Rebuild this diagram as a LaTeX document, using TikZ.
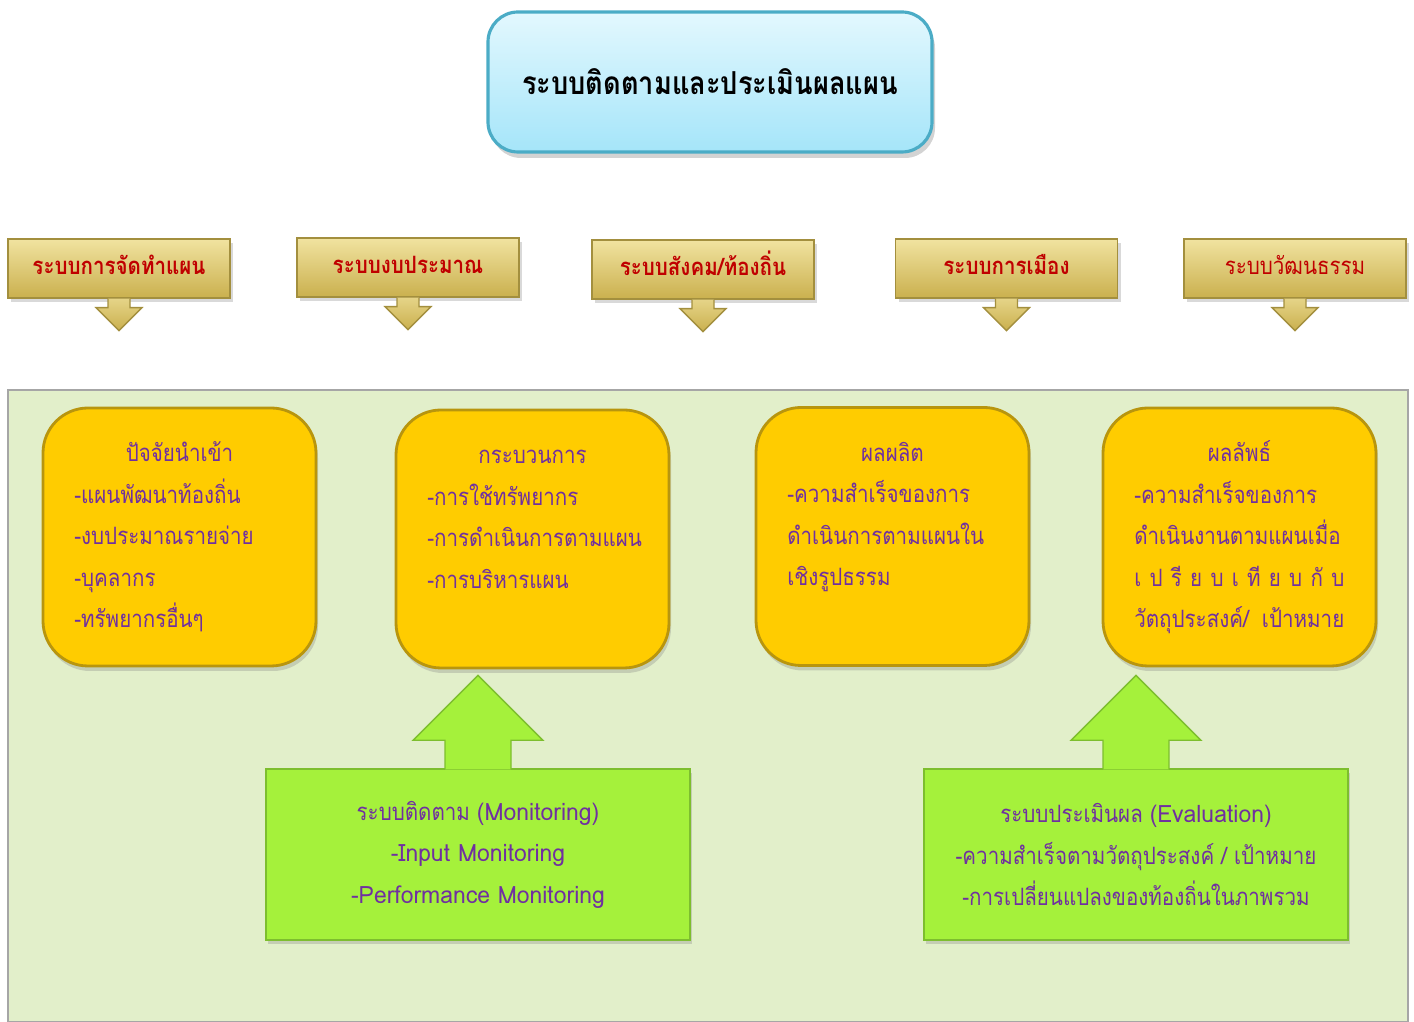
\documentclass[tikz,border=0pt]{standalone}
\usepackage{fontspec}
\setmainfont[Script=Thai]{Loma}
\newfontfamily\narrowthai[Script=Thai,FakeStretch=0.86]{Loma}
\newfontfamily\plainlatin[FakeStretch=0.96]{Loma}
\newcommand{\lat}[1]{{\plainlatin #1}}
\usepackage{xcolor}
\usepackage{tikz}
\usetikzlibrary{calc,shadows}

\definecolor{titletop}{HTML}{E3F8FE}
\definecolor{titlebottom}{HTML}{A5E5F9}
\definecolor{titleedge}{HTML}{4BACC6}
\definecolor{goldtop}{HTML}{F1E3A0}
\definecolor{goldbottom}{HTML}{CAB04E}
\definecolor{goldedge}{HTML}{A38F3E}
\definecolor{goldtext}{HTML}{C00000}
\definecolor{panelfill}{HTML}{E2EFCA}
\definecolor{paneledge}{HTML}{A6A6A6}
\definecolor{yellowfill}{HTML}{FFCC00}
\definecolor{yellowedge}{HTML}{B8950E}
\definecolor{stagetext}{HTML}{7030A0}
\definecolor{limefill}{HTML}{A5F13B}
\definecolor{limeedge}{HTML}{7DBE2E}

\tikzset{
  titlebox/.style={rectangle,rounded corners=0.3cm,top color=titletop,bottom color=titlebottom,
    draw=titleedge,line width=0.9pt,minimum width=4.44cm,minimum height=1.40cm,
    font=\narrowthai\fontsize{9}{11}\selectfont\bfseries,
    drop shadow={opacity=0.35,shadow xshift=0.03,shadow yshift=-0.06}},
  goldbox/.style={rectangle,top color=goldtop,bottom color=goldbottom,draw=goldedge,
    minimum width=2.22cm,minimum height=0.59cm,text=goldtext,text height=5.5pt,text depth=2.1pt,
    font=\narrowthai\fontsize{6.8}{8}\selectfont\bfseries,
    drop shadow={opacity=0.3,shadow xshift=0.03,shadow yshift=-0.04}},
  goldarrow/.style={top color=goldtop!70!goldbottom,bottom color=goldbottom,draw=goldedge},
  panel/.style={rectangle,fill=panelfill,draw=paneledge,minimum width=14.0cm,minimum height=6.32cm},
  yellowbox/.style={rectangle,rounded corners=0.45cm,fill=yellowfill,draw=yellowedge,line width=0.8pt,
    minimum width=2.73cm,minimum height=2.58cm,
    drop shadow={opacity=0.3,shadow xshift=0.02,shadow yshift=-0.05}},
  stagehead/.style={anchor=base,inner sep=0pt,text=stagetext,font=\narrowthai\fontsize{6.8}{8}\selectfont},
  stageline/.style={anchor=base west,inner sep=0pt,text=stagetext,font=\narrowthai\fontsize{6.8}{8}\selectfont},
  limebox/.style={rectangle,fill=limefill,draw=limeedge,minimum width=4.24cm,minimum height=1.71cm,
    align=center,text=stagetext,font=\narrowthai\fontsize{6.8}{11.8}\selectfont,
    drop shadow={opacity=0.3,shadow xshift=0.02,shadow yshift=-0.04}},
  limearrow/.style={fill=limefill,draw=limeedge}
}

\begin{document}
\begin{tikzpicture}
  \useasboundingbox (0,0) rectangle (14.14,10.22);

  \node[titlebox] (title) at (7.10,9.40) {ระบบติดตามและประเมินผลแผน};

  % five systems feeding in
  \node[goldbox] (plan) at (1.19,7.535) {ระบบการจัดทำแผน};
  \node[goldbox] (budget) at (4.08,7.545) {ระบบงบประมาณ};
  \node[goldbox] (social) at (7.03,7.525) {ระบบสังคม/ท้องถิ่น};
  \node[goldbox] (politic) at (10.065,7.535) {ระบบการเมือง};
  \node[goldbox,font=\narrowthai\fontsize{6.8}{8}\selectfont] (culture) at (12.95,7.535) {ระบบวัฒนธรรม};

  \foreach \b in {plan,budget,social,politic,culture}
    \path[goldarrow] ($(\b.south)+(-0.11,0)$) -- ++(0,-0.09) -- ++(-0.12,0)
      -- ($(\b.south)+(0,-0.32)$) -- ($(\b.south)+(0.23,-0.09)$) -- ++(-0.12,0)
      -- ($(\b.south)+(0.11,0)$);

  \node[panel] (panel) at (7.08,3.16) {};

  % stages
  \node[yellowbox] (inp) at (1.795,4.85) {};
  \node[yellowbox] (proc) at (5.325,4.83) {};
  \node[yellowbox] (outp) at (8.925,4.855) {};
  \node[yellowbox] (outc) at (12.395,4.85) {};

  \node[stagehead] at ($(inp.north)+(0,-0.55)$) {ปัจจัยนำเข้า};
  \foreach \t [count=\i] in {-แผนพัฒนาท้องถิ่น,-งบประมาณรายจ่าย,-บุคลากร,-ทรัพยากรอื่นๆ}
    \node[stageline] at ($(inp.north west)+(0.32,-0.55-0.415*\i)$) {\t};

  \node[stagehead] at ($(proc.north)+(0,-0.55)$) {กระบวนการ};
  \foreach \t [count=\i] in {-การใช้ทรัพยากร,-การดำเนินการตามแผน,-การบริหารแผน}
    \node[stageline] at ($(proc.north west)+(0.32,-0.55-0.415*\i)$) {\t};

  \node[stagehead] at ($(outp.north)+(0,-0.55)$) {ผลผลิต};
  \foreach \t [count=\i] in {-ความสำเร็จของการ,ดำเนินการตามแผนใน,เชิงรูปธรรม}
    \node[stageline] at ($(outp.north west)+(0.32,-0.55-0.415*\i)$) {\t};

  \node[stagehead] at ($(outc.north)+(0,-0.55)$) {ผลลัพธ์};
  \foreach \t [count=\i] in {-ความสำเร็จของการ,ดำเนินงานตามแผนเมื่อ,เ ป รี ย บ เ ที ย บ กั บ,วัตถุประสงค์/ เป้าหมาย}
    \node[stageline] at ($(outc.north west)+(0.32,-0.55-0.415*\i)$) {\makebox[2.1cm][s]{\t}};

  % monitoring and evaluation
  \node[limebox] (mon) at (4.78,1.675)
    {ระบบติดตาม \lat{(Monitoring)}\\\lat{-Input Monitoring}\\\lat{-Performance Monitoring}};
  \node[limebox] (eval) at (11.36,1.675)
    {ระบบประเมินผล \lat{(Evaluation)}\\-ความสำเร็จตามวัตถุประสงค์ / เป้าหมาย\\-การเปลี่ยนแปลงของท้องถิ่นในภาพรวม};

  \foreach \b in {mon,eval}
    \path[limearrow] ($(\b.north)+(-0.33,-0.01)$) -- ++(0,0.29) -- ++(-0.32,0)
      -- ($(\b.north)+(0,0.93)$) -- ($(\b.north)+(0.65,0.28)$) -- ++(-0.32,0)
      -- ($(\b.north)+(0.33,-0.01)$);
\end{tikzpicture}
\end{document}
